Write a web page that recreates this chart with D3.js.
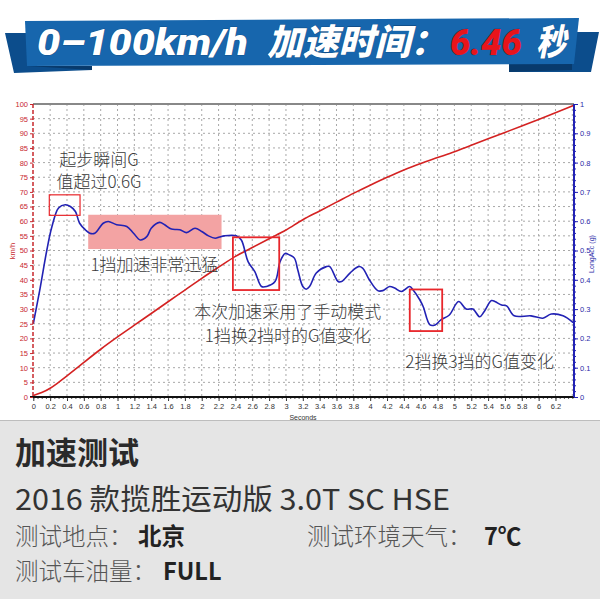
<!DOCTYPE html>
<html><head><meta charset="utf-8">
<script src="https://cdn.jsdelivr.net/npm/d3@7/dist/d3.min.js"></script>
<style>html,body{margin:0;padding:0;background:#fff}svg{display:block}</style>
</head><body>
<script>
// ---- data ----
const speedTime = [0,0.1,0.2,0.3,0.4,0.5,0.6,0.8,1.0,1.2,1.4,1.6,1.8,2.0,2.2,2.4,2.6,2.8,3.0,3.2,3.4,3.6,3.8,4.0,4.2,4.4,4.6,4.8,5.0,5.2,5.4,5.6,5.8,6.0,6.2,6.42];
const speedKmh  = [0.5,1.5,3,5,7.2,9.5,11.8,16.3,20.5,24.5,28.5,32.5,36.5,40.5,44.3,48,51,54,57,60.5,63.5,66.5,69.5,72.3,75,77.5,79.7,81.7,83.7,85.9,88.1,90.3,92.5,94.7,97,99.6];
const accTime = [0,0.08,0.16,0.22,0.30,0.38,0.44,0.50,0.55,0.62,0.67,0.73,0.83,0.89,0.99,1.11,1.19,1.27,1.35,1.40,1.50,1.56,1.64,1.74,1.82,1.92,2.00,2.08,2.16,2.21,2.27,2.41,2.47,2.55,2.63,2.71,2.77,2.87,2.93,2.99,3.04,3.10,3.14,3.20,3.24,3.28,3.36,3.48,3.52,3.62,3.66,3.76,3.86,3.91,3.99,4.09,4.15,4.23,4.29,4.37,4.47,4.51,4.59,4.63,4.71,4.77,4.84,4.94,5.05,5.14,5.22,5.30,5.35,5.44,5.48,5.56,5.62,5.71,5.91,6.05,6.15,6.29,6.41];
const accG    = [0.25,0.37,0.50,0.58,0.645,0.656,0.65,0.633,0.593,0.57,0.559,0.559,0.593,0.599,0.588,0.582,0.559,0.536,0.548,0.576,0.596,0.588,0.573,0.571,0.561,0.576,0.565,0.55,0.542,0.546,0.55,0.55,0.536,0.462,0.428,0.377,0.377,0.394,0.462,0.49,0.485,0.474,0.434,0.377,0.368,0.377,0.423,0.445,0.445,0.394,0.394,0.423,0.445,0.44,0.40,0.363,0.363,0.377,0.372,0.36,0.377,0.365,0.331,0.308,0.246,0.246,0.263,0.28,0.326,0.30,0.30,0.274,0.29,0.329,0.326,0.314,0.311,0.277,0.277,0.269,0.283,0.277,0.254];
const xTickValues = [0,0.2,0.4,0.6,0.8,1,1.2,1.4,1.6,1.8,2,2.2,2.4,2.6,2.8,3,3.2,3.4,3.6,3.8,4,4.2,4.4,4.6,4.8,5,5.2,5.4,5.6,5.8,6,6.2];
const speedTickValues = [0,5,10,15,20,25,30,35,40,45,50,55,60,65,70,75,80,85,90,95,100];
const accTickValues = [0,0.1,0.2,0.3,0.4,0.5,0.6,0.7,0.8,0.9,1];
const titleParts = ["0–100km/h", "加速时间：", "6.46", "秒"];
const notes = [
  {lines:["起步瞬间G","值超过0.6G"], t:0.78, v:[79.0,71.2]},
  {lines:["1挡加速非常迅猛"], t:1.44, v:[43.0]},
  {lines:["本次加速采用了手动模式","1挡换2挡时的G值变化"], t:3.02, v:[26.9,18.9]},
  {lines:["2挡换3挡的G值变化"], t:5.3, v:[9.9]}
];
// boxes [t0,t1,g0,g1]
const boxes = [[0.19,0.555,0.62,0.69],[2.37,2.92,0.365,0.545],[4.47,4.855,0.225,0.367]];
const highlight = [0.652,2.235,0.505,0.622];

// ---- drawing ----
const W=600,H=599;
const svg=d3.select("body").append("svg").attr("width",W).attr("height",H);
const x=d3.scaleLinear().domain([0,6.42]).range([33.3,574]);
const yS=d3.scaleLinear().domain([0,100]).range([397,104]);
const yG=d3.scaleLinear().domain([0,1]).range([397,104]);

// header ribbon
const hdr=svg.append("g");
hdr.append("polygon").attr("points","5,33 30,33 30,66 92,66 92,70 14,73").attr("fill","#0c4d8c");
hdr.append("polygon").attr("points","28,66 92,66 92,70").attr("fill","#083a6c");
hdr.append("polygon").attr("points","560,32 599,32 591,72 509,72 509,64 572,64").attr("fill","#0c4d8c");
hdr.append("polygon").attr("points","509,64 572,64 572,70 509,72").attr("fill","#083a6c");
hdr.append("polygon").attr("points","25,21 579,18 574,64 27,66").attr("fill","#1766ad");
const tf="Roboto,'Noto Sans CJK SC',sans-serif";
const tp=[{x:37,w:211,c:"#fff"},{x:267,w:179,c:"#fff"},{x:450,w:72,c:"#e8141b"},{x:536,w:30,c:"#fff"}];
titleParts.forEach((s,i)=>{
  hdr.append("text").attr("x",tp[i].x).attr("y",55).text(s)
    .attr("textLength",tp[i].w).attr("lengthAdjust","spacingAndGlyphs")
    .attr("font-family",tf).attr("font-weight",900).attr("font-style","italic")
    .attr("font-size",36).attr("fill",tp[i].c)
    .attr("stroke","#0a3d70").attr("stroke-width",0.6).attr("paint-order","stroke");
});

// grid
const grid=svg.append("g").attr("stroke","#a8a8a8").attr("stroke-dasharray","2,3").attr("stroke-width",1);
grid.selectAll("line.v").data(xTickValues.filter(d=>d>0).concat([6.4])).join("line")
  .attr("x1",d=>x(d)).attr("x2",d=>x(d)).attr("y1",104).attr("y2",397);
grid.selectAll("line.h").data(speedTickValues.filter(d=>d>0&&d<100)).join("line")
  .attr("x1",33).attr("x2",574).attr("y1",d=>yS(d)).attr("y2",d=>yS(d));

// highlight band
svg.append("rect").attr("x",x(highlight[0])).attr("width",x(highlight[1])-x(highlight[0]))
  .attr("y",yG(highlight[3])).attr("height",yG(highlight[2])-yG(highlight[3]))
  .attr("fill","#f3a3a3");

// top border
svg.append("line").attr("x1",33).attr("x2",574).attr("y1",104).attr("y2",104).attr("stroke","#888").attr("stroke-width",2);

// lines
svg.append("path").datum(speedTime.map((t,i)=>[t,speedKmh[i]]))
  .attr("d",d3.line().x(d=>x(d[0])).y(d=>yS(d[1])).curve(d3.curveMonotoneX))
  .attr("fill","none").attr("stroke","#d42222").attr("stroke-width",1.6);
svg.append("path").datum(accTime.map((t,i)=>[t,accG[i]]))
  .attr("d",d3.line().x(d=>x(d[0])).y(d=>yG(d[1])).curve(d3.curveCatmullRom.alpha(0.5)))
  .attr("fill","none").attr("stroke","#2222b4").attr("stroke-width",1.6);

// boxes
svg.selectAll("rect.box").data(boxes).join("rect")
  .attr("x",d=>x(d[0])).attr("width",d=>x(d[1])-x(d[0]))
  .attr("y",d=>yG(d[3])).attr("height",d=>yG(d[2])-yG(d[3]))
  .attr("fill","none").attr("stroke","#e8262b").attr("stroke-width",d=>d[0]<1?1.2:1.8);

// axes
const axF="'Liberation Sans',Arial,sans-serif";
const ax=svg.append("g").attr("transform","translate(0,397)")
  .call(d3.axisBottom(x).tickValues(xTickValues).tickSize(4).tickPadding(3).tickFormat(d3.format("")));
ax.select(".domain").remove();
ax.selectAll("text").attr("font-family",axF).attr("font-size",7.5).attr("fill","#333");
ax.selectAll("line").attr("stroke","#333");
svg.append("g").attr("transform","translate(0,397)")
  .call(d3.axisBottom(x).tickValues(d3.range(0,6.42,0.05)).tickSize(2).tickFormat(""))
  .call(g=>g.select(".domain").remove()).selectAll("line").attr("stroke","#555");
svg.append("line").attr("x1",30).attr("x2",574).attr("y1",397).attr("y2",397).attr("stroke","#111").attr("stroke-width",2);
svg.append("text").attr("x",303).attr("y",419.5).attr("text-anchor","middle").text("Seconds")
  .attr("font-family",axF).attr("font-size",7).attr("fill","#333");

const al=svg.append("g").attr("transform","translate(33,0)")
  .call(d3.axisLeft(yS).tickValues(speedTickValues).tickSize(3).tickPadding(2));
al.select(".domain").remove();
al.selectAll("text").attr("font-family",axF).attr("font-size",7.5).attr("fill","#c8282e");
al.selectAll("line").attr("stroke","#c8282e");
svg.append("line").attr("x1",33).attr("x2",33).attr("y1",104).attr("y2",397)
  .attr("stroke","#c8282e").attr("stroke-width",1.5).attr("stroke-dasharray","4,2");
svg.append("text").attr("transform","translate(15,251) rotate(-90)").attr("text-anchor","middle").text("km/h")
  .attr("font-family",axF).attr("font-size",7.5).attr("fill","#c8282e");

const ar=svg.append("g").attr("transform","translate(574,0)")
  .call(d3.axisRight(yG).tickValues(accTickValues).tickSize(4).tickPadding(2).tickFormat(d3.format("")));
ar.select(".domain").remove();
ar.selectAll("text").attr("font-family",axF).attr("font-size",7.5).attr("fill","#2a2aa8");
ar.selectAll("line").attr("stroke","#2222b4");
svg.append("g").attr("transform","translate(574,0)")
  .call(d3.axisRight(yG).tickValues(d3.range(0,1.001,0.02)).tickSize(2).tickFormat(""))
  .call(g=>g.select(".domain").remove()).selectAll("line").attr("stroke","#2222b4");
svg.append("line").attr("x1",574).attr("x2",574).attr("y1",104).attr("y2",397).attr("stroke","#2222b4").attr("stroke-width",2);
svg.append("text").attr("transform","translate(594,254) rotate(-90)").attr("text-anchor","middle").text("LongAcc (g)")
  .attr("font-family",axF).attr("font-size",7).attr("fill","#2a2aa8");

// annotations
const nf="'Noto Sans CJK SC','Noto Sans',sans-serif";
notes.forEach(n=>{
  n.lines.forEach((s,i)=>{
    svg.append("text").attr("x",x(n.t)).attr("y",yS(n.v[i])).attr("text-anchor","middle").text(s)
      .attr("font-family",nf).attr("font-weight",300).attr("font-size",17).attr("fill","#3a3a3a");
  });
});

// bottom panel
svg.append("rect").attr("x",0).attr("y",420).attr("width",600).attr("height",179).attr("fill","#e5e5e5");
svg.append("line").attr("x1",0).attr("x2",600).attr("y1",420.5).attr("y2",420.5).attr("stroke","#bdbdbd");
const bp=svg.append("g").attr("font-family",nf);
bp.append("text").attr("x",15).attr("y",464).text("加速测试").attr("font-weight",700).attr("font-size",31).attr("fill","#2a2a2a");
bp.append("text").attr("x",15).attr("y",510).text("2016 款揽胜运动版 3.0T SC HSE").attr("font-size",29)
  .attr("textLength",435).attr("lengthAdjust","spacingAndGlyphs").attr("fill","#333");
const row=(xx,yy,label,val,vx)=>{
  bp.append("text").attr("x",xx).attr("y",yy).text(label).attr("font-size",23.5).attr("font-weight",300).attr("fill","#555");
  bp.append("text").attr("x",vx).attr("y",yy).text(val).attr("font-size",23.5).attr("font-weight",700).attr("fill","#222");
};
row(15,545,"测试地点：","北京",138);
row(307,545,"测试环境天气：","7℃",484);
row(15,580,"测试车油量：","FULL",163);
</script>
</body></html>
